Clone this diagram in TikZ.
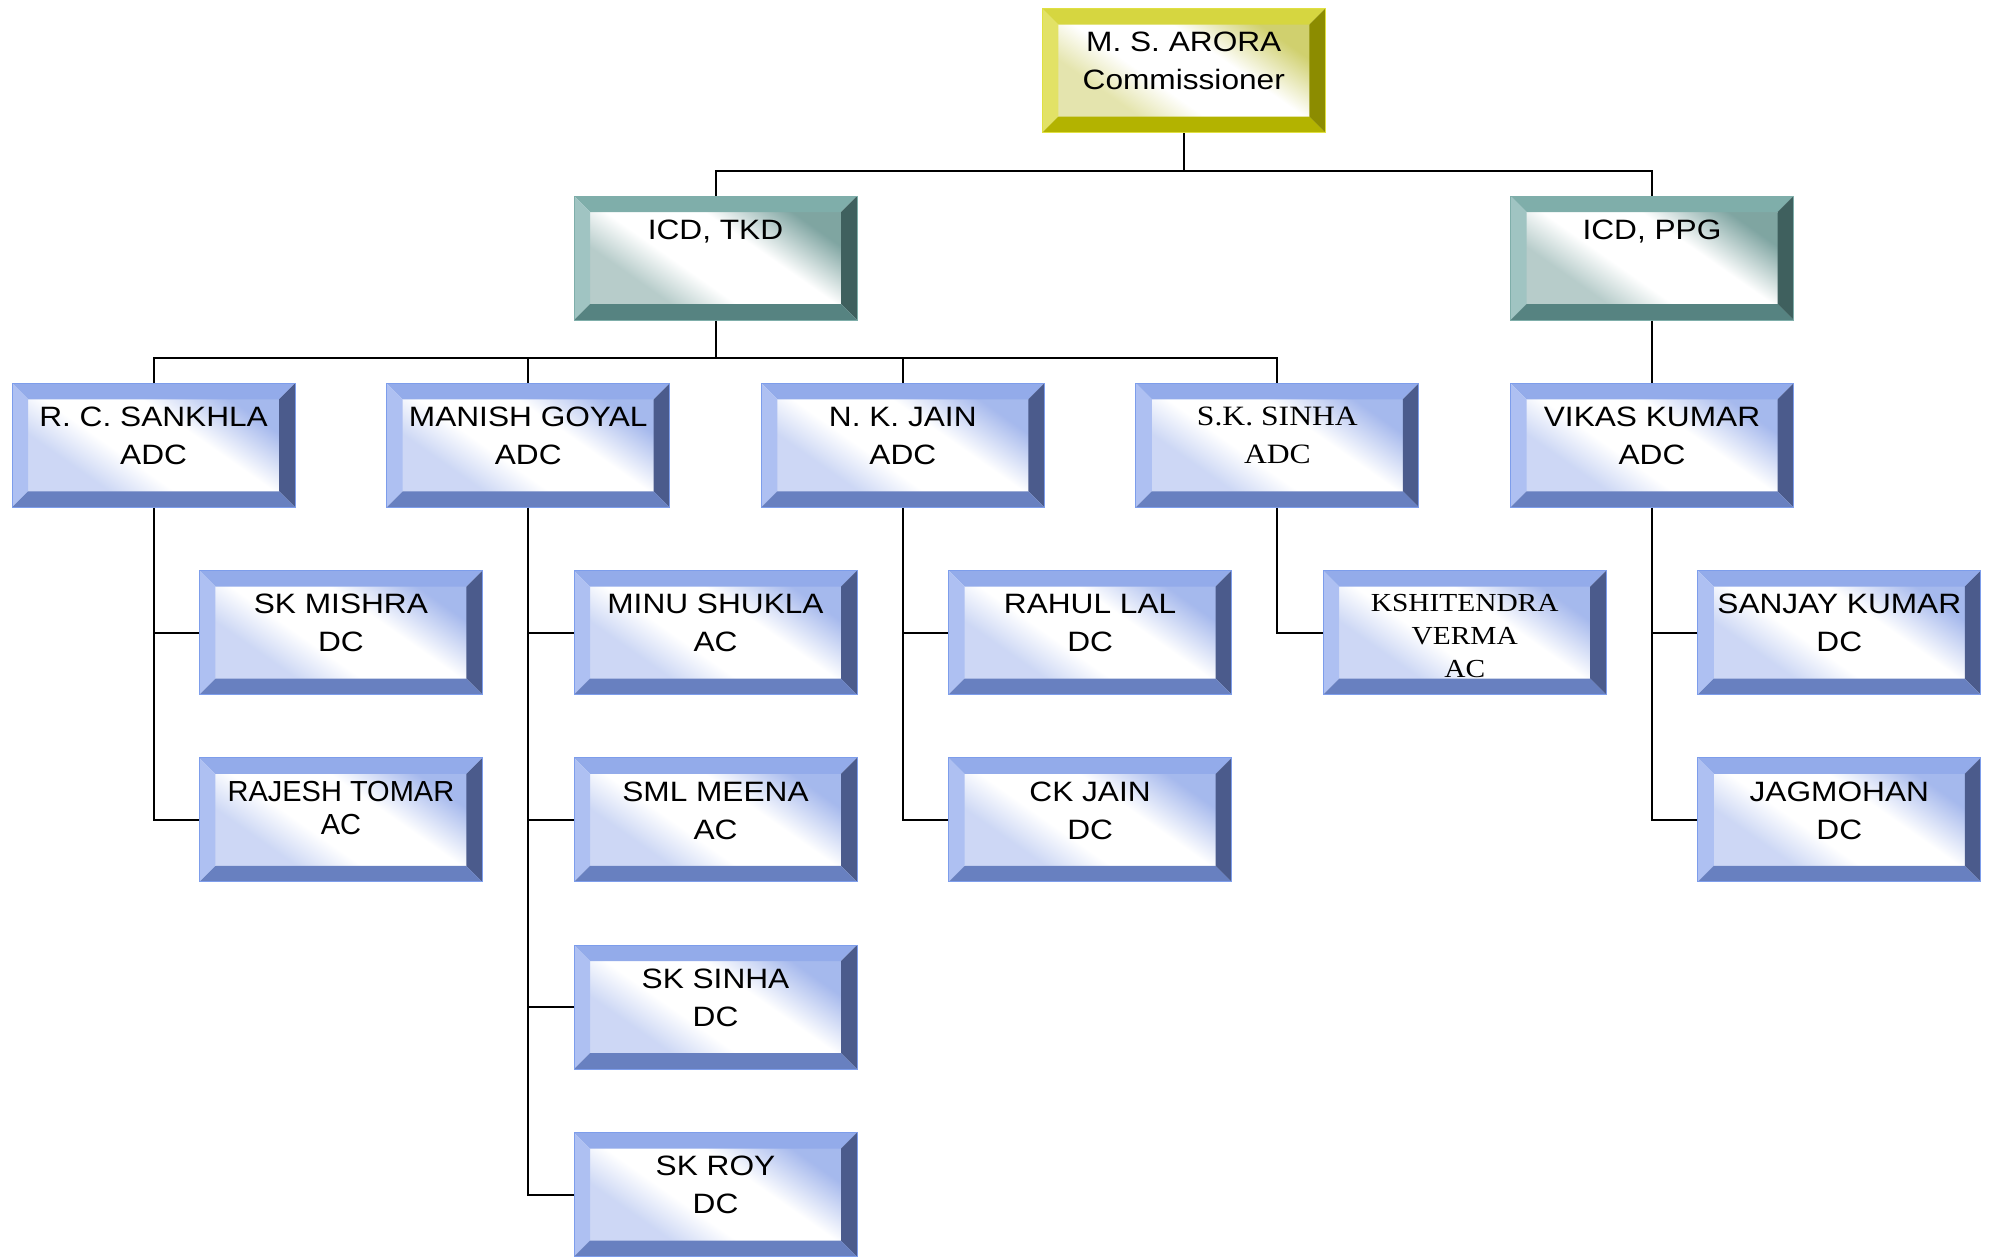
\documentclass[tikz,border=0pt]{standalone}
\usepackage{fontspec}
\setmainfont{Liberation Sans}[FakeStretch=1.13]
\newfontfamily\timesfont{Liberation Serif}[FakeStretch=1.13]
\newfontfamily\plainfont{Liberation Sans}

\definecolor{blueTop}{HTML}{93ABEA}
\definecolor{blueLeft}{HTML}{AEC0F2}
\definecolor{blueRight}{HTML}{4B5B8C}
\definecolor{blueBottom}{HTML}{6880C0}
\definecolor{blueFace}{HTML}{8FA7E8}
\definecolor{blueEdge}{HTML}{7D9DEB}
\definecolor{tealTop}{HTML}{7FAEAA}
\definecolor{tealLeft}{HTML}{A0C4C2}
\definecolor{tealRight}{HTML}{3F605E}
\definecolor{tealBottom}{HTML}{568381}
\definecolor{tealFace}{HTML}{5F8E8A}
\definecolor{tealEdge}{HTML}{7FAEAA}
\definecolor{goldTop}{HTML}{D6D640}
\definecolor{goldLeft}{HTML}{E2E266}
\definecolor{goldRight}{HTML}{8C8C00}
\definecolor{goldBottom}{HTML}{B3B300}
\definecolor{goldFace}{HTML}{C4C44A}
\definecolor{goldEdge}{HTML}{E0E040}
\colorlet{faceclr}{blueFace}

% face of a box: coloured corners, broad white band across the middle
\pgfdeclareverticalshading[faceclr]{bevelface}{100bp}{%
  color(0bp)=(faceclr!45!white); color(30bp)=(faceclr!45!white);
  color(42bp)=(white); color(60bp)=(white);
  color(76bp)=(faceclr!80!white); color(100bp)=(faceclr!80!white)}

\tikzset{
  orgbox/.style={minimum width=283pt, minimum height=124pt, inner sep=0pt,
    draw=#1Edge, line width=1pt,
    path picture={
      \colorlet{faceclr}{#1Face}
      \coordinate (nw) at (path picture bounding box.north west);
      \coordinate (ne) at (path picture bounding box.north east);
      \coordinate (sw) at (path picture bounding box.south west);
      \coordinate (se) at (path picture bounding box.south east);
      \coordinate (inw) at ([shift={(16pt,-16pt)}]nw);
      \coordinate (ine) at ([shift={(-16pt,-16pt)}]ne);
      \coordinate (isw) at ([shift={(16pt,16pt)}]sw);
      \coordinate (ise) at ([shift={(-16pt,16pt)}]se);
      \shade[shading=bevelface, shading angle=-35] (inw) rectangle (ise);
      \fill[#1Top] (nw) -- (ne) -- (ine) -- (inw) -- cycle;
      \fill[#1Left] (nw) -- (inw) -- (isw) -- (sw) -- cycle;
      \fill[#1Right] (ne) -- (se) -- (ise) -- (ine) -- cycle;
      \fill[#1Bottom] (sw) -- (isw) -- (ise) -- (se) -- cycle;
    }},
  boxtext/.style={anchor=north, yshift=-24pt, inner sep=0pt, align=center,
    font=\fontsize{28}{38}\selectfont},
  link/.style={line width=2pt, black}
}

\begin{document}
\begin{tikzpicture}[x=1pt, y=-1pt]
\useasboundingbox (0,0) rectangle (1991,1256);

% top and stations
\node[orgbox=gold, label={[boxtext]north:{M. S. ARORA\\Commissioner}}] (arora) at (1183.75,70.7) {};
\node[orgbox=teal, label={[boxtext]north:{ICD, TKD}}] (tkd) at (715.5,258) {};
\node[orgbox=teal, label={[boxtext]north:{ICD, PPG}}] (ppg) at (1652,258) {};

% ADC level
\node[orgbox=blue, label={[boxtext]north:{R. C. SANKHLA\\ADC}}] (sankhla) at (153.6,445.3) {};
\node[orgbox=blue, label={[boxtext]north:{MANISH GOYAL\\ADC}}] (goyal) at (528.2,445.3) {};
\node[orgbox=blue, label={[boxtext]north:{N. K. JAIN\\ADC}}] (nkjain) at (902.8,445.3) {};
\node[orgbox=blue, label={[boxtext, font=\timesfont\fontsize{28}{38}\selectfont]north:{S.K. SINHA\\ADC}}] (sksinhaadc) at (1277.4,445.3) {};
\node[orgbox=blue, label={[boxtext]north:{VIKAS KUMAR\\ADC}}] (vikas) at (1652,445.3) {};

% DC / AC level
\node[orgbox=blue, label={[boxtext]north:{SK MISHRA\\DC}}] (mishra) at (340.9,632.6) {};
\node[orgbox=blue, label={[boxtext, font=\plainfont\fontsize{29}{33}\selectfont]north:{RAJESH TOMAR\\AC}}] (tomar) at (340.9,819.9) {};
\node[orgbox=blue, label={[boxtext]north:{MINU SHUKLA\\AC}}] (shukla) at (715.5,632.6) {};
\node[orgbox=blue, label={[boxtext]north:{SML MEENA\\AC}}] (meena) at (715.5,819.9) {};
\node[orgbox=blue, label={[boxtext]north:{SK SINHA\\DC}}] (sinha) at (715.5,1007.2) {};
\node[orgbox=blue, label={[boxtext]north:{SK ROY\\DC}}] (roy) at (715.5,1194.5) {};
\node[orgbox=blue, label={[boxtext]north:{RAHUL LAL\\DC}}] (lal) at (1090.1,632.6) {};
\node[orgbox=blue, label={[boxtext]north:{CK JAIN\\DC}}] (ckjain) at (1090.1,819.9) {};
\node[orgbox=blue, label={[boxtext, font=\timesfont\fontsize{26}{33}\selectfont]north:{KSHITENDRA\\VERMA\\AC}}] (verma) at (1464.7,632.6) {};
\node[orgbox=blue, label={[boxtext]north:{SANJAY KUMAR\\DC}}] (sanjay) at (1839.3,632.6) {};
\node[orgbox=blue, label={[boxtext]north:{JAGMOHAN\\DC}}] (jagmohan) at (1839.3,819.9) {};

% connectors
\draw[link] (arora.south) -- ++(0,38) coordinate (bustop);
\draw[link] (bustop) -| (tkd.north);
\draw[link] (bustop) -| (ppg.north);
\draw[link] (tkd.south) -- ++(0,37.5) coordinate (bustkd);
\foreach \n in {sankhla,goyal,nkjain,sksinhaadc}
  \draw[link] (bustkd) -| (\n.north);
\draw[link] (ppg.south) -- (vikas.north);
\foreach \p/\c in {sankhla/mishra, sankhla/tomar, goyal/shukla, goyal/meena,
    goyal/sinha, goyal/roy, nkjain/lal, nkjain/ckjain, sksinhaadc/verma,
    vikas/sanjay, vikas/jagmohan}
  \draw[link] (\p.south) |- (\c.west);
\end{tikzpicture}
\end{document}
